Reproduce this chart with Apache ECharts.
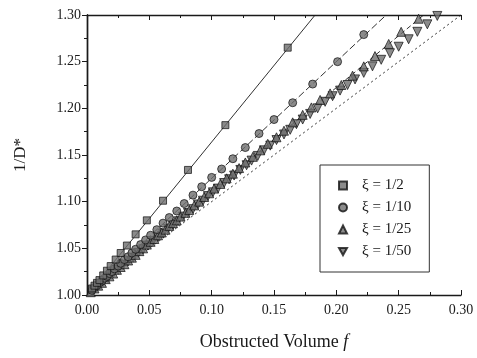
<!DOCTYPE html>
<html>
<head>
    <meta charset="utf-8" />
    <title>1/D* vs obstructed volume</title>
    <style>
        html, body { margin: 0; padding: 0; background: #fff; }
        #main { width: 477px; height: 358px; }
    </style>
</head>
<body>
    <div id="main"></div>
    <script src="https://cdn.jsdelivr.net/npm/echarts@6/dist/echarts.min.js"></script>
    <script type="text/javascript">
        // xi = 1/2 (squares)
        var f2 = [0.004, 0.006, 0.008, 0.010, 0.013, 0.016, 0.019, 0.023, 0.027, 0.032, 0.039, 0.048, 0.061, 0.081, 0.111, 0.161];
        var y2 = [1.007, 1.010, 1.013, 1.016, 1.021, 1.026, 1.031, 1.038, 1.045, 1.053, 1.065, 1.080, 1.101, 1.134, 1.182, 1.265];

        // xi = 1/10 (circles)
        var f10 = [0.004, 0.006, 0.008, 0.010, 0.012, 0.014, 0.016, 0.018, 0.020, 0.022, 0.025, 0.027, 0.030, 0.033, 0.036, 0.039, 0.043, 0.047,
                   0.051, 0.056, 0.061, 0.066, 0.072, 0.078, 0.085, 0.092, 0.100, 0.108, 0.117, 0.127, 0.138, 0.150, 0.165, 0.181, 0.201, 0.222];
        var y10 = [1.005, 1.008, 1.010, 1.013, 1.015, 1.018, 1.020, 1.023, 1.025, 1.028, 1.031, 1.034, 1.038, 1.041, 1.045, 1.049, 1.054, 1.059,
                   1.064, 1.070, 1.077, 1.083, 1.090, 1.098, 1.107, 1.116, 1.126, 1.135, 1.146, 1.158, 1.173, 1.188, 1.206, 1.226, 1.250, 1.279];

        // xi = 1/25 (up triangles)
        var f25 = [0.003, 0.006, 0.009, 0.012, 0.015, 0.018, 0.021, 0.024, 0.027, 0.030, 0.033, 0.036, 0.039, 0.042, 0.045, 0.048, 0.051, 0.054,
                   0.057, 0.060, 0.063, 0.066, 0.069, 0.072, 0.075, 0.079, 0.082, 0.086, 0.090, 0.094, 0.098, 0.102, 0.107, 0.112, 0.117, 0.122,
                   0.127, 0.133, 0.139, 0.145, 0.152, 0.158, 0.165, 0.173, 0.180, 0.187, 0.195, 0.204, 0.213, 0.222, 0.231, 0.242, 0.252, 0.266];
        var y25 = [1.003, 1.007, 1.010, 1.013, 1.017, 1.020, 1.023, 1.027, 1.030, 1.033, 1.037, 1.040, 1.043, 1.047, 1.050, 1.054, 1.057, 1.060,
                   1.064, 1.067, 1.070, 1.074, 1.077, 1.080, 1.084, 1.088, 1.091, 1.096, 1.100, 1.105, 1.109, 1.114, 1.119, 1.125, 1.130, 1.136,
                   1.142, 1.148, 1.155, 1.162, 1.169, 1.176, 1.185, 1.193, 1.201, 1.209, 1.216, 1.225, 1.235, 1.245, 1.256, 1.269, 1.282, 1.296];

        // xi = 1/50 (down triangles)
        var f50 = [0.005, 0.009, 0.013, 0.017, 0.021, 0.025, 0.029, 0.033, 0.037, 0.041, 0.045, 0.049, 0.053, 0.057, 0.061, 0.065, 0.069, 0.073,
                   0.077, 0.081, 0.085, 0.089, 0.093, 0.097, 0.101, 0.105, 0.110, 0.114, 0.118, 0.123, 0.128, 0.132, 0.137, 0.142, 0.147, 0.152,
                   0.158, 0.163, 0.168, 0.173, 0.179, 0.185, 0.191, 0.197, 0.203, 0.209, 0.215, 0.222, 0.229, 0.236, 0.243, 0.250, 0.258, 0.265,
                   0.273, 0.281];
        var y50 = [1.005, 1.010, 1.014, 1.018, 1.023, 1.027, 1.032, 1.036, 1.040, 1.045, 1.049, 1.053, 1.058, 1.062, 1.066, 1.071, 1.075, 1.079,
                   1.084, 1.088, 1.092, 1.097, 1.101, 1.106, 1.110, 1.114, 1.120, 1.124, 1.128, 1.134, 1.139, 1.144, 1.149, 1.155, 1.160, 1.166,
                   1.172, 1.177, 1.183, 1.188, 1.194, 1.200, 1.207, 1.213, 1.219, 1.225, 1.231, 1.238, 1.245, 1.252, 1.259, 1.266, 1.274, 1.282,
                   1.290, 1.299];

        // fitted lines (start and end points, chart units)
        var fit2 = [[0, 1], [0.183, 1.3]];
        var fit10 = [[0, 1], [0.240, 1.3]];
        var fit25 = [[0, 1], [0.270, 1.3]];
        var ref = [[0, 1], [0.3, 1.3]];

        var names = ['ξ = 1/2', 'ξ = 1/10', 'ξ = 1/25', 'ξ = 1/50'];
        var xTicks = ['0.00', '0.05', '0.10', '0.15', '0.20', '0.25', '0.30'];
        var yTicks = ['1.00', '1.05', '1.10', '1.15', '1.20', '1.25', '1.30'];

        function pairs(xs, ys) {
            return xs.map(function (x, i) { return [x, ys[i]]; });
        }

        var serif = 'Liberation Serif';
        var ink = '#1a1a1a';
        var markStyle = { color: '#6e6e6e', borderColor: '#111', borderWidth: 0.9 };

        function pointSeries(name, xs, ys, symbol, size) {
            return {
                name: name, type: 'scatter', data: pairs(xs, ys),
                symbol: symbol, symbolSize: size, itemStyle: markStyle,
                z: 3, silent: true
            };
        }
        function lineSeries(name, data, dash) {
            return {
                name: name, type: 'line', data: data, showSymbol: false, symbol: 'none',
                lineStyle: { color: ink, width: 0.9, type: dash }, z: 2, silent: true
            };
        }

        var chart = echarts.init(document.getElementById('main'));
        var axisCommon = {
            axisLine: { show: true, lineStyle: { color: ink, width: 1.4 } },
            splitLine: { show: false }
        };

        chart.setOption({
            animation: false,
            backgroundColor: '#fff',
            grid: { left: 87, right: 16, top: 15, bottom: 63 },
            legend: {
                data: names,
                orient: 'vertical',
                left: 320, top: 165,
                padding: [13, 18, 13, 18],
                itemGap: 7, itemWidth: 8, itemHeight: 8,
                borderColor: '#333', borderWidth: 1,
                textStyle: { fontFamily: serif, fontSize: 15, color: ink, padding: [0, 0, 0, 10], lineHeight: 14 }
            },
            xAxis: [
                Object.assign({
                    type: 'value', min: 0, max: 0.3, interval: 0.05, position: 'bottom',
                    name: 'Obstructed Volume {i|f}', nameLocation: 'middle', nameGap: 38,
                    nameTextStyle: {
                        fontFamily: serif, fontSize: 18, color: ink,
                        rich: { i: { fontFamily: serif, fontStyle: 'italic', fontSize: 18, color: ink } }
                    },
                    axisTick: { inside: true, length: 5, lineStyle: { color: ink } },
                    minorTick: { show: true, splitNumber: 2, length: 3, lineStyle: { color: ink } },
                    axisLabel: {
                        fontFamily: serif, fontSize: 14, color: ink, margin: 8,
                        formatter: function (v) { return xTicks[Math.round(v / 0.05)]; }
                    }
                }, axisCommon),
                Object.assign({
                    type: 'value', min: 0, max: 0.3, interval: 0.05, position: 'top',
                    axisTick: { inside: true, length: 5, lineStyle: { color: ink } },
                    minorTick: { show: true, splitNumber: 2, length: 3, lineStyle: { color: ink } },
                    axisLabel: { show: false }
                }, axisCommon)
            ],
            yAxis: [
                Object.assign({
                    type: 'value', min: 1, max: 1.3, interval: 0.05, position: 'left',
                    name: '1/D*', nameLocation: 'middle', nameGap: 58, nameRotate: 90,
                    nameTextStyle: { fontFamily: serif, fontSize: 17, color: ink },
                    axisTick: { inside: false, length: 4, lineStyle: { color: ink } },
                    minorTick: { show: true, splitNumber: 2, length: 3, lineStyle: { color: ink } },
                    axisLabel: {
                        fontFamily: serif, fontSize: 14, color: ink, margin: 6,
                        formatter: function (v) { return yTicks[Math.round((v - 1) / 0.05)]; }
                    }
                }, axisCommon),
                Object.assign({
                    type: 'value', min: 1, max: 1.3, interval: 0.05, position: 'right',
                    axisTick: { inside: true, length: 5, lineStyle: { color: ink } },
                    minorTick: { show: true, splitNumber: 2, length: 3, lineStyle: { color: ink } },
                    axisLabel: { show: false }
                }, axisCommon)
            ],
            series: [
                lineSeries('fit 1/2', fit2, 'solid'),
                lineSeries('fit 1/10', fit10, [7, 3]),
                lineSeries('fit 1/25', fit25, [5, 3]),
                lineSeries('reference', ref, [2, 3]),
                pointSeries(names[3], f50, y50, 'path://M0,0 L10,0 L5,9 Z', 9),
                pointSeries(names[2], f25, y25, 'triangle', 9),
                pointSeries(names[1], f10, y10, 'circle', 8),
                pointSeries(names[0], f2, y2, 'rect', 7)
            ]
        });
    </script>
</body>
</html>
